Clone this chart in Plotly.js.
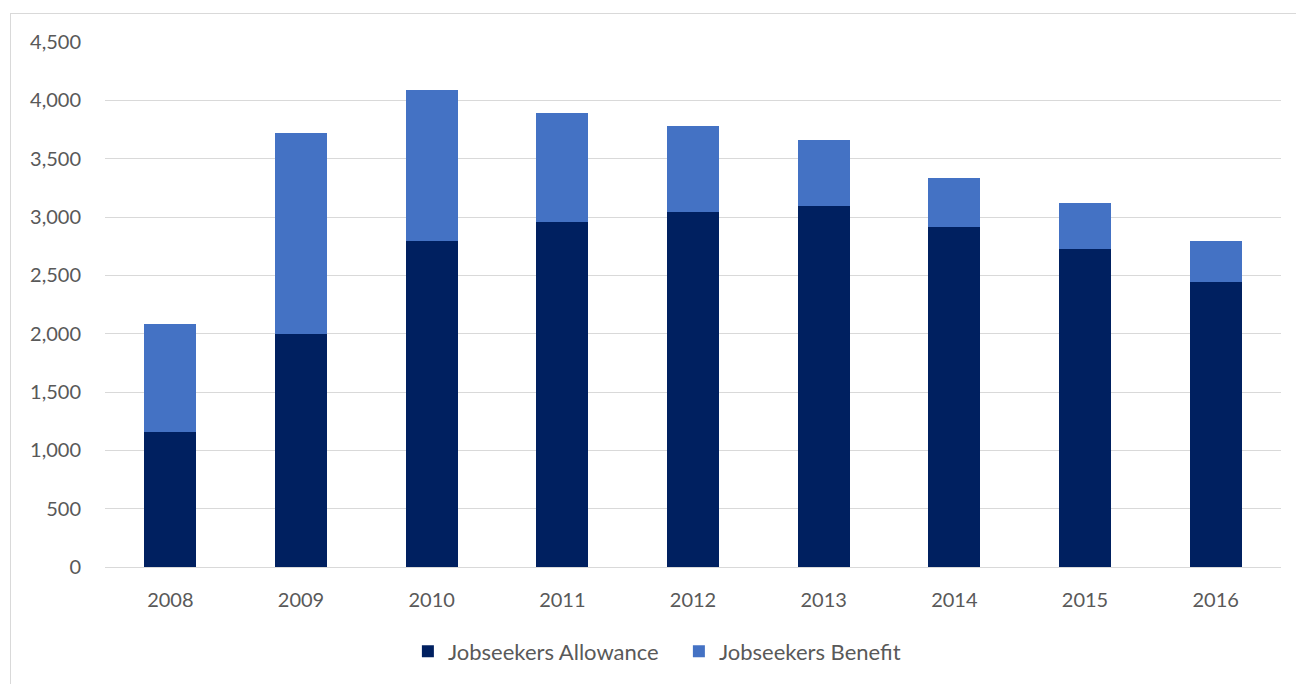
<!DOCTYPE html>
<html>
<head>
<meta charset="utf-8">
<script src="https://cdn.plot.ly/plotly-3.0.1.min.js"></script>
<style>
html,body{margin:0;padding:0;background:#fff;}
#chart{width:1296px;height:684px;}
#frame{position:absolute;left:10px;top:13px;width:1300px;height:700px;border:1px solid #d9d9d9;pointer-events:none;}
</style>
</head>
<body>
<div id="chart"></div>
<div id="frame"></div>
<script>
const years = ['2008','2009','2010','2011','2012','2013','2014','2015','2016'];
const allowance = [1157, 1997, 2798, 2960, 3045, 3097, 2915, 2730, 2440];
const benefit = [923, 1722, 1293, 929, 737, 559, 418, 389, 358];
const yTickVals = [0, 500, 1000, 1500, 2000, 2500, 3000, 3500, 4000, 4500];
const yTickText = ['0','500','1,000','1,500','2,000','2,500','3,000','3,500','4,000','4,500'];

const fontFam = 'Lato, "Open Sans", sans-serif';
const traces = [
  {type:'bar', name:'Jobseekers Allowance', x:years, y:allowance,
   marker:{color:'#002060', line:{color:'#002060', width:0}}},
  {type:'bar', name:'Jobseekers Benefit', x:years, y:benefit,
   marker:{color:'#4472C4', line:{color:'#4472C4', width:0}}}
];
const layout = {
  width:1296, height:684,
  margin:{l:105, r:15, t:42, b:113},
  barmode:'stack', bargap:0.6,
  paper_bgcolor:'#ffffff', plot_bgcolor:'#ffffff',
  font:{family:fontFam, color:'#595959', size:20},
  xaxis:{type:'category', showgrid:false, zeroline:false, showline:false,
         ticks:'', ticklabelstandoff:19, tickfont:{size:20, color:'#595959'}},
  yaxis:{range:[0,4500], tickvals:yTickVals, ticktext:yTickText,
         showgrid:true, gridcolor:'#d9d9d9', gridwidth:1, zeroline:true, zerolinecolor:'#d9d9d9',
         zerolinewidth:1, showline:false, ticks:'', ticklabelstandoff:23, tickfont:{size:20, color:'#595959'}},
  showlegend:true,
  legend:{orientation:'h', x:0.488, xanchor:'center', y:-0.161, yanchor:'middle',
          font:{size:22, color:'#595959'}, itemwidth:30, traceorder:'normal',
          entrywidth:226, entrywidthmode:'pixels'},
  hovermode:false
};
Plotly.newPlot('chart', traces, layout, {displayModeBar:false, staticPlot:true});
</script>
</body>
</html>
